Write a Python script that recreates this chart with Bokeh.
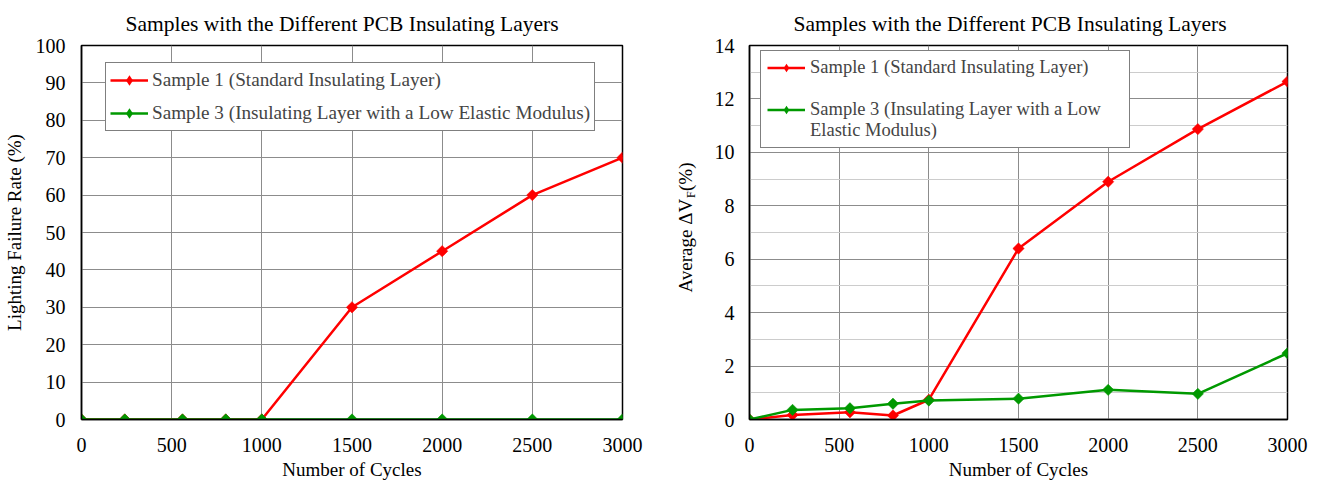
from bokeh.plotting import figure
from bokeh.layouts import row
from bokeh.models import (Legend, LegendItem, Label, FixedTicker, Range1d, Title,
                          ColumnDataSource)
from bokeh.embed import file_html
from bokeh.resources import INLINE
import math

# ---- data ----
cycles = [0, 240, 560, 800, 1000, 1500, 2000, 2500, 3000]
failure_s1 = [0, 0, 0, 0, 0, 30, 45, 60, 70]
failure_s3 = [0, 0, 0, 0, 0, 0, 0, 0, 0]
dvf_s1 = [0, 0.17, 0.27, 0.15, 0.74, 6.4, 8.9, 10.87, 12.65]
dvf_s3 = [0, 0.36, 0.42, 0.59, 0.71, 0.78, 1.11, 0.96, 2.48]

x_ticks = [0, 500, 1000, 1500, 2000, 2500, 3000]
y1_ticks = [0, 10, 20, 30, 40, 50, 60, 70, 80, 90, 100]
y2_ticks = [0, 2, 4, 6, 8, 10, 12, 14]
y2_minor = [1, 3, 5, 7, 9, 11, 13]

title_text = "Samples with the Different PCB Insulating Layers"
xlabel = "Number of Cycles"
ylabel_left = "Lighting Failure Rate (%)"
ylabel_right_main = "Average \u0394V"
ylabel_right_sub = "F"
ylabel_right_tail = " (%)"
s1_label = "Sample 1 (Standard Insulating Layer)"
s3_label = "Sample 3 (Insulating Layer with a Low Elastic Modulus)"
s3_label_l1 = "Sample 3 (Insulating Layer with a Low"
s3_label_l2 = "Elastic Modulus)"

RED = "#FF0000"
GREEN = "#009900"
FONT = "Liberation Serif"
GRID = "#8c8c8c"
H = 482
FRAME_TOP = 45
FRAME_BOTTOM = 419
FRAME_H = FRAME_BOTTOM - FRAME_TOP
LABEL_W = 50


def make_fig(width, ymax, yticks, min_left, min_right, ystand):
    p = figure(width=width, height=H, x_range=Range1d(0, 3000), y_range=Range1d(0, ymax),
               output_backend="svg", toolbar_location=None,
               min_border_left=min_left, min_border_right=min_right,
               min_border_top=FRAME_TOP, min_border_bottom=H - FRAME_BOTTOM)
    p.add_layout(Title(text=title_text, align="left", offset=44, text_font=FONT,
                       text_font_size="21.5px", text_font_style="normal",
                       text_color="black", standoff=19), "above")
    p.outline_line_color = "black"
    p.outline_line_width = 1.5
    p.background_fill_color = "white"
    p.border_fill_color = "white"
    p.xaxis.ticker = FixedTicker(ticks=x_ticks)
    p.yaxis.ticker = FixedTicker(ticks=yticks)
    for ax in (p.xaxis[0], p.yaxis[0]):
        ax.major_tick_line_color = None
        ax.minor_tick_line_color = None
        ax.axis_line_color = "black"
        ax.axis_line_width = 1.5
        ax.major_label_text_font = FONT
        ax.major_label_text_font_size = "20px"
        ax.major_label_text_color = "black"
        ax.axis_label_text_font = FONT
        ax.axis_label_text_font_size = "19px"
        ax.axis_label_text_font_style = "normal"
        ax.axis_label_text_color = "black"
    p.xaxis.major_label_standoff = 12
    p.xaxis.axis_label = xlabel
    p.xaxis.axis_label_standoff = 4
    p.yaxis.major_label_standoff = ystand
    p.xgrid.grid_line_color = GRID
    p.ygrid.grid_line_color = GRID
    p.xgrid.grid_line_width = 1
    p.ygrid.grid_line_width = 1
    return p


def add_series(p, xs, ys, color):
    src = ColumnDataSource(dict(x=xs, y=ys))
    ln = p.line("x", "y", source=src, line_color=color, line_width=2.5)
    # small upright diamonds (hidden under the plot markers) give the legend its key
    key = p.scatter("x", "y", source=src, marker="diamond", size=6.5,
                    fill_color=color, line_color=None)
    p.scatter("x", "y", source=src, marker="square", angle=math.pi / 4, size=8,
              fill_color=color, line_color=color, line_width=0.5)
    return [ln, key]


# ---- left chart ----
p1 = make_fig(660, 100, y1_ticks, 81, 38, 10)
p1.yaxis.axis_label = ylabel_left
p1.yaxis.axis_label_standoff = 8
r1 = add_series(p1, cycles, failure_s1, RED)
g1 = add_series(p1, cycles, failure_s3, GREEN)
leg1 = Legend(items=[LegendItem(label=s1_label, renderers=r1),
                     LegendItem(label=s3_label, renderers=g1)],
              location=(24, 288), margin=0, padding=4, spacing=7,
              label_height=26, glyph_width=38, glyph_height=26, label_standoff=4,
              label_text_font=FONT, label_text_font_size="19.2px",
              border_line_color="black", border_line_width=1.2,
              background_fill_color="white", background_fill_alpha=1)
p1.add_layout(leg1, "center")

# ---- narrow panel holding the right chart's y-axis title ----
# its frame lines up with the chart frames; y is measured in pixels up from the frame bottom
pl = figure(frame_width=LABEL_W, frame_height=FRAME_H, x_range=Range1d(0, LABEL_W),
            y_range=Range1d(0, FRAME_H), title=None,
            output_backend="svg", toolbar_location=None, min_border=0,
            x_axis_type=None, y_axis_type=None)
pl.outline_line_color = None
pl.background_fill_color = "white"
pl.border_fill_color = "white"
pl.grid.visible = False
ylab_kw = dict(angle=math.pi / 2, text_align="left", text_baseline="middle",
               text_font=FONT, text_color="black")
pl.add_layout(Label(x=25, y=FRAME_BOTTOM - 292, text=ylabel_right_main,
                    text_font_size="19px", **ylab_kw))
pl.add_layout(Label(x=30, y=FRAME_BOTTOM - 197.5, text=ylabel_right_sub,
                    text_font_size="12px", **ylab_kw))
pl.add_layout(Label(x=25, y=FRAME_BOTTOM - 190.5, text=ylabel_right_tail,
                    text_font_size="19px", **ylab_kw))

# ---- right chart ----
p2 = make_fig(656 - LABEL_W, 14, y2_ticks, 89 - LABEL_W, 29, 11)
p2.yaxis.major_tick_out = 0
p2.yaxis.ticker = FixedTicker(ticks=y2_ticks, minor_ticks=y2_minor)
p2.ygrid.minor_grid_line_color = "#cccccc"
p2.ygrid.minor_grid_line_width = 1
r2 = add_series(p2, cycles, dvf_s1, RED)
g2 = add_series(p2, cycles, dvf_s3, GREEN)
blank = p2.line([], [], line_alpha=0)
leg2 = Legend(items=[LegendItem(label=s1_label, renderers=r2),
                     LegendItem(label=" ", renderers=[blank]),
                     LegendItem(label=s3_label_l1, renderers=g2),
                     LegendItem(label=s3_label_l2, renderers=[blank])],
              location=(11, 271), margin=0, padding=6, spacing=0,
              label_height=21, glyph_width=38, glyph_height=21, label_standoff=5,
              label_width=313,
              label_text_font=FONT, label_text_font_size="18.5px",
              border_line_color="black", border_line_width=1.2,
              background_fill_color="white", background_fill_alpha=1)
p2.add_layout(leg2, "center")

layout = row(p1, pl, p2, spacing=0)
open("out.html", "w").write(file_html(layout, INLINE))
